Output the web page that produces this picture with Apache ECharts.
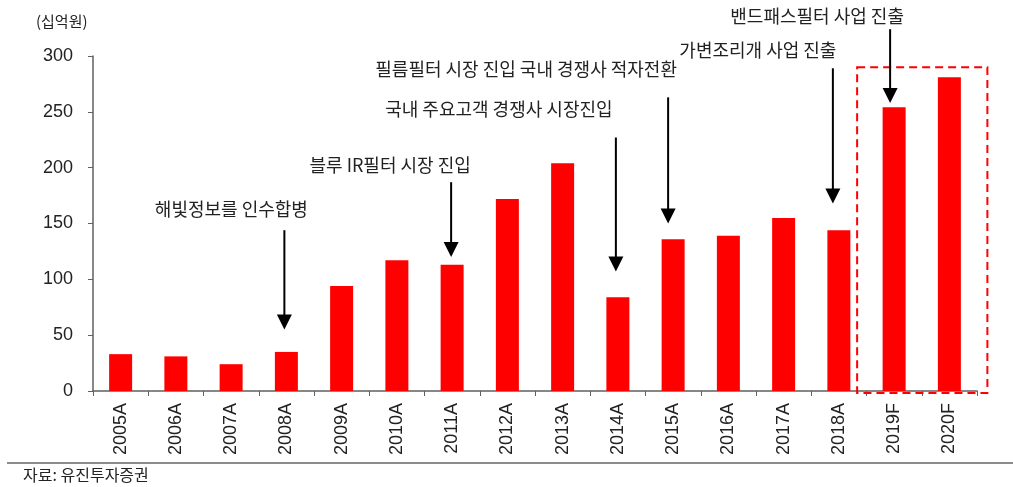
<!DOCTYPE html>
<html>
<head>
<meta charset="utf-8">
<script src="https://cdn.jsdelivr.net/npm/echarts@6/dist/echarts.min.js"></script>
<style>
  html, body { margin: 0; padding: 0; background: #fff; }
  #main { width: 1013px; height: 487px; }
</style>
</head>
<body>
<div id="main"></div>
<script>
// 연도별 매출 (십억원)
const categories = ['2005A', '2006A', '2007A', '2008A', '2009A', '2010A', '2011A', '2012A',
  '2013A', '2014A', '2015A', '2016A', '2017A', '2018A', '2019F', '2020F'];
const revenue = [33, 31, 24, 35, 94, 117, 113, 172, 204, 84, 136, 139, 155, 144, 254, 281];
const yTicks = [0, 50, 100, 150, 200, 250, 300];

// 주석 (화살표가 가리키는 연도, 화살표 시작값 / 끝(촉)값)
const noteTexts = ['해빛정보를 인수합병', '블루 IR필터 시장 진입', '국내 주요고객 경쟁사 시장진입',
  '필름필터 시장 진입 국내 경쟁사 적자전환', '가변조리개 사업 진출', '밴드패스필터 사업 진출'];
const noteCats = ['2008A', '2011A', '2014A', '2015A', '2018A', '2019F'];
const arrowFrom = [144, 187, 227, 263, 289, 324];
const arrowTo = [55, 120, 107, 150, 168, 258];
const forecastCats = ['2019F', '2020F'];

// 글자 위치 (화살표 기준 가로 오프셋 px, 세로 값), 화살표 가로 보정 px
const noteLayout = [[-55, 163], [-62, 202], [-119, 252], [-147, 288], [-81, 305], [-77, 336]];
const arrowShift = [-2, -1, -2, -5, -6, -4];

const FONT_KR = '"Noto Sans CJK KR", sans-serif';
const myChart = echarts.init(document.getElementById('main'));

myChart.setOption({
  animation: false,
  grid: { left: 93, right: 36, top: 56, bottom: 96 },
  xAxis: {
    type: 'category',
    data: categories,
    axisLine: { lineStyle: { color: '#606060', width: 1.5 } },
    axisTick: { show: true, length: 5, lineStyle: { color: '#606060' } },
    axisLabel: {
      rotate: 90, margin: 12, fontSize: 18, color: '#222',
      fontFamily: '"Liberation Sans", Arial, sans-serif'
    }
  },
  yAxis: {
    type: 'value',
    min: yTicks[0],
    max: yTicks[yTicks.length - 1],
    interval: yTicks[1] - yTicks[0],
    splitLine: { show: false },
    axisLine: { show: true, lineStyle: { color: '#606060', width: 1.5 } },
    axisTick: { show: true, length: 5, lineStyle: { color: '#606060' } },
    axisLabel: {
      margin: 20, fontSize: 18, color: '#222',
      fontFamily: '"Liberation Sans", Arial, sans-serif'
    }
  },
  series: [{
    type: 'bar',
    data: revenue,
    barWidth: 23,
    itemStyle: { color: '#FF0000' }
  }]
});

// 주석 글자/화살표, 전망 박스, 단위/출처
const px = (c, v) => myChart.convertToPixel({ seriesIndex: 0 }, [c, v]);
const graphics = [];
const HEAD = 15;

noteTexts.forEach((t, i) => {
  const p = px(noteCats[i], noteLayout[i][1]);
  graphics.push({
    type: 'text',
    style: {
      text: t, x: p[0] + noteLayout[i][0], y: p[1],
      align: 'center', verticalAlign: 'middle',
      font: '18px ' + FONT_KR, fill: '#222'
    }
  });
  const a = px(noteCats[i], arrowFrom[i]);
  const b = px(noteCats[i], arrowTo[i]);
  const x = a[0] + arrowShift[i];
  graphics.push({
    type: 'line',
    shape: { x1: x, y1: a[1], x2: x, y2: b[1] - HEAD + 2 },
    style: { stroke: '#000', lineWidth: 2 },
    z: 20
  });
  graphics.push({
    type: 'polygon',
    shape: { points: [[x - 7.5, b[1] - HEAD], [x + 7.5, b[1] - HEAD], [x, b[1]]] },
    style: { fill: '#000' },
    z: 20
  });
});

const boxL = px(forecastCats[0], 290)[0] - 37;
const boxR = px(forecastCats[1], 290)[0] + 38;
const boxT = px(forecastCats[0], 290)[1];
const boxB = px(forecastCats[0], 0)[1] + 2;
graphics.push({
  type: 'rect',
  shape: { x: boxL, y: boxT, width: boxR - boxL, height: boxB - boxT },
  style: { fill: 'none', stroke: '#FF0000', lineWidth: 2, lineDash: [8, 5] },
  z: 10
});

graphics.push({
  type: 'text',
  style: { text: '(십억원)', x: 36, y: 21, verticalAlign: 'middle', font: '15px ' + FONT_KR, fill: '#222' }
});
graphics.push({
  type: 'line',
  shape: { x1: 7, y1: 463, x2: 1013, y2: 463 },
  style: { stroke: '#8c8c8c', lineWidth: 2 }
});
graphics.push({
  type: 'text',
  style: { text: '자료: 유진투자증권', x: 23, y: 475, verticalAlign: 'middle', font: '16px ' + FONT_KR, fill: '#222' }
});

myChart.setOption({ graphic: graphics });
</script>
</body>
</html>
